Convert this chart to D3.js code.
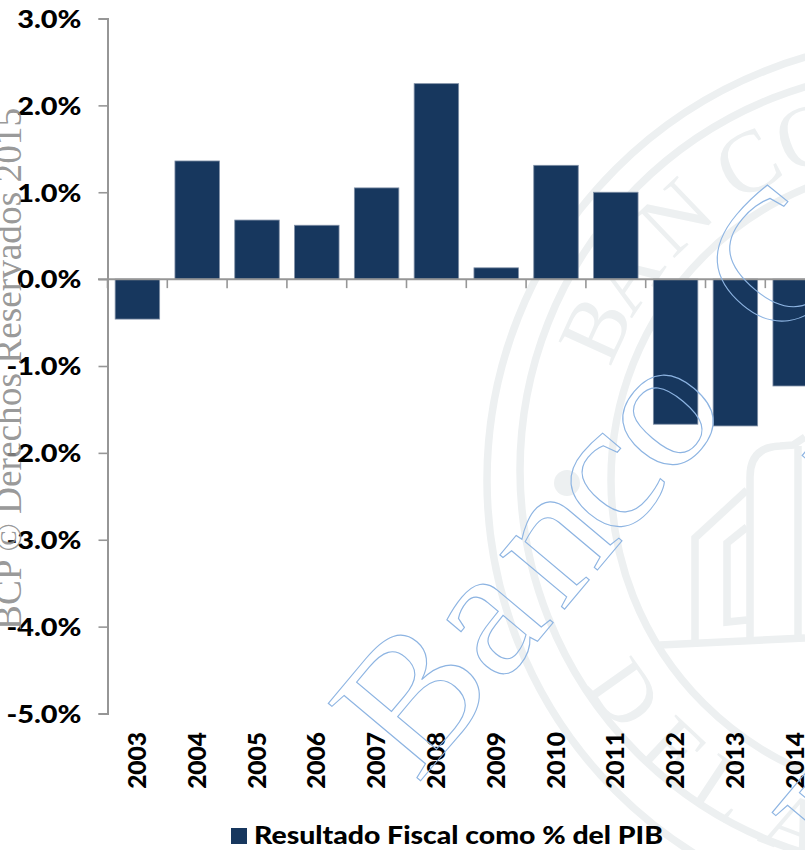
<!DOCTYPE html>
<html lang="es">
<head>
<meta charset="utf-8">
<script src="https://cdn.jsdelivr.net/npm/d3@7"></script>
<style>
html,body{margin:0;padding:0;background:#fff;overflow:hidden}
svg{display:block}
text{font-family:Lato,"Open Sans",sans-serif}
</style>
</head>
<body>
<svg id="chart" width="805" height="850"></svg>
<script>
const years = ["2003","2004","2005","2006","2007","2008","2009","2010","2011","2012","2013","2014"];
const fiscalResult = [-0.46,1.36,0.68,0.62,1.05,2.25,0.13,1.31,1.00,-1.67,-1.69,-1.23];
const yTicks = [3,2,1,0,-1,-2,-3,-4,-5];
const legendLabel = "Resultado Fiscal como % del PIB";
const watermarkLine = "BCP © Derechos Reservados 2015";
const sealTop = [["B",155.5],["A",146],["N",133.7],["C",119.5],["O",109]];
const sealBottom = [["D",215.3],["E",226.9],["L",236.5],["A",249]];

const svg = d3.select("#chart");
const ink = "#000", bar = "#17375e", axisGrey = "#969696", sealGrey = "#edf0f1";

const x = d3.scaleBand().domain(years).range([107.5,825.1]).paddingInner(0.256).paddingOuter(0.128);
const y = d3.scaleLinear().domain([-5,3]).range([713.5,18.5]);

/* faint seal behind the chart */
const seal = svg.append("g").attr("class","seal");
const cx = 927, cy = 480;
seal.selectAll("circle.ring").data([[927,480,440],[920,470,400],[927,480,316]]).join("circle").attr("class","ring")
  .attr("cx",d=>d[0]).attr("cy",d=>d[1]).attr("r",d=>d[2])
  .attr("fill","none").attr("stroke",sealGrey).attr("stroke-width",7.5);
seal.append("circle").attr("cx",567).attr("cy",483).attr("r",13).attr("fill",sealGrey);
const buildingPaths = [
  "M660 645L805 638",
  "M695 640V538L747 490",
  "M747 527L727 543V622L747 620",
  "M750 640V477Q750 447 780 446L793 445L805 437",
  "M798 446V640"
];
seal.selectAll("path").data(buildingPaths).join("path").attr("d",d=>d)
  .attr("fill","none").attr("stroke",sealGrey).attr("stroke-width",7.5);
const placeLetter = (sel,r,rot) => sel
  .attr("transform",d=>{
    const a = d[1]*Math.PI/180;
    return `translate(${cx+r*Math.cos(a)},${cy-r*Math.sin(a)}) rotate(${rot(d[1])})`;
  })
  .attr("text-anchor","middle").attr("dy","0.33em")
  .attr("fill",sealGrey)
  .style("font-family","'Liberation Serif',serif")
  .text(d=>d[0]);
seal.selectAll("text.top").data(sealTop).join("text").attr("class","top")
  .attr("font-size",88).call(placeLetter,364,t=>90-t);
seal.selectAll("text.bot").data(sealBottom).join("text").attr("class","bot")
  .attr("font-size",84).call(placeLetter,370,t=>270-t);

/* bars */
svg.append("g").selectAll("rect").data(years).join("rect")
  .attr("x",d=>x(d)).attr("width",x.bandwidth())
  .attr("y",(d,i)=>y(Math.max(0,fiscalResult[i])))
  .attr("height",(d,i)=>Math.abs(y(fiscalResult[i])-y(0)))
  .attr("fill",bar).attr("stroke","#7f8fa6").attr("stroke-width",0.8);

/* y axis */
const yAxis = svg.append("g").attr("transform","translate(107.5,0)")
  .call(d3.axisLeft(y).tickValues(yTicks).tickSize(9).tickPadding(0)
    .tickFormat(d=>d.toFixed(1)+"%"));
yAxis.selectAll("path,line").attr("stroke",axisGrey).attr("stroke-width",1.6);
yAxis.select(".domain").attr("stroke-width",2);
yAxis.selectAll("text").attr("x",0).attr("dy","0.36em").attr("fill",ink)
  .attr("transform","translate(-26,0) scale(1.18,1)")
  .style("font-family","Lato,sans-serif").style("font-weight",900)
  .style("font-size","24.5px");

/* category axis on the zero line */
const step = x.step(), gap = step - x.bandwidth();
const zero = svg.append("g");
zero.selectAll("line.tick").data(years).join("line").attr("class","tick")
  .attr("x1",d=>x(d)-gap/2).attr("x2",d=>x(d)-gap/2)
  .attr("y1",y(0)).attr("y2",y(0)+9)
  .attr("stroke",axisGrey).attr("stroke-width",1.6);
zero.append("line").attr("x1",98).attr("x2",805).attr("y1",y(0)).attr("y2",y(0))
  .attr("stroke",axisGrey).attr("stroke-width",2);
svg.append("g").selectAll("text").data(years).join("text")
  .attr("transform",d=>`translate(${x(d)+x.bandwidth()/2+8.5},732) rotate(-90)`)
  .attr("text-anchor","end").attr("fill",ink)
  .style("font-weight",900).style("font-size","24.5px").text(d=>d);

/* legend */
svg.append("rect").attr("x",231).attr("y",828).attr("width",16).attr("height",16).attr("fill",bar);
svg.append("text").attr("x",254).attr("y",844).attr("fill",ink)
  .attr("textLength",409).attr("lengthAdjust","spacingAndGlyphs")
  .style("font-weight",900).style("font-size","25px").text(legendLabel);

/* watermark text on top */
const outline = sel => sel
  .attr("fill","none").attr("stroke","#8db4e2").attr("stroke-width",1.1)
  .style("font-family","'Liberation Serif',serif").style("font-size","184px");
svg.append("text").attr("transform","translate(417,785) rotate(-50) scale(1.05,1)")
  .attr("dx","0 0 10 -10 -4 0 30").call(outline).text("Banco Central");
svg.append("text").attr("transform","translate(891,537) rotate(-50)").call(outline).text("R");
svg.append("text").attr("transform","translate(861,894) rotate(-50)").call(outline).text("P");
svg.append("text").attr("transform","translate(21,630) rotate(-90)")
  .attr("fill","#8c8c8c").attr("fill-opacity",0.9)
  .style("font-family","'Liberation Serif',serif").style("font-size","37.3px")
  .text(watermarkLine);
</script>
</body>
</html>
